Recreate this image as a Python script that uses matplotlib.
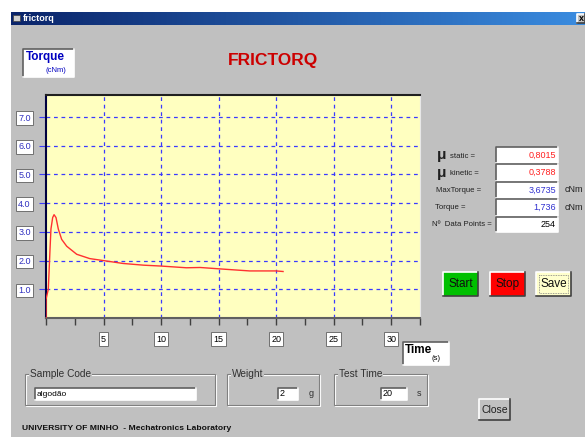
import matplotlib
matplotlib.use('Agg')
import matplotlib.pyplot as plt
from matplotlib.patches import Rectangle
from matplotlib.ticker import MultipleLocator, FormatStrFormatter
import numpy as np

plt.rcParams['font.family'] = ['Liberation Sans', 'DejaVu Sans']

# ---------- data ----------
time_s = [0.0, 0.0, 0.2, 0.35, 0.43, 0.58, 0.7, 0.87, 1.07, 1.36, 1.8, 2.67,
          3.8, 5.0, 6.7, 8.5, 10.0, 12.2, 13.4, 15.5, 17.7, 20.0, 20.6]
torque_cnm = [0.0, 0.65, 1.0, 2.4, 3.1, 3.5, 3.6, 3.5, 3.1, 2.74, 2.5, 2.22,
              2.07, 2.0, 1.9, 1.84, 1.81, 1.75, 1.76, 1.7, 1.64, 1.64, 1.62]

y_ticks = [1, 2, 3, 4, 5, 6, 7]
x_ticks = [5, 10, 15, 20, 25, 30]

result_labels = ["static =", "kinetic =", "MaxTorque =", "Torque =", "Nº  Data Points ="]
result_values = ["0,8015", "0,3788", "3,6735", "1,736", "254"]
result_colors = ["#ff2020", "#ff2020", "#3030d0", "#3030d0", "black"]
result_units = ["", "", "cNm", "cNm", ""]

sample_code = "algodão"
weight_g = "2"
test_time_s = "20"

W, H = 585, 437
GRAY = "#c0c0c0"

fig = plt.figure(figsize=(W / 100, H / 100), dpi=100)
fig.patch.set_facecolor("white")

ui = fig.add_axes([0, 0, 1, 1])
ui.set_xlim(0, W)
ui.set_ylim(H, 0)
ui.axis('off')


def bevel(x, y, w, h, face, raised=True):
    ui.add_patch(Rectangle((x, y), w, h, facecolor=face, edgecolor='none', zorder=2))
    light, dark = ("white", "#404040") if raised else ("#606060", "white")
    ui.plot([x, x, x + w], [y + h, y, y], color=light, lw=1.2, zorder=3)
    ui.plot([x, x + w, x + w], [y + h, y + h, y], color=dark, lw=1.2, zorder=3)


def group(x, y, w, h, title):
    ui.add_patch(Rectangle((x + 1, y + 1), w, h, fill=False, edgecolor="white", lw=0.8, zorder=2))
    ui.add_patch(Rectangle((x, y), w, h, fill=False, edgecolor="#808080", lw=0.8, zorder=2))
    ui.text(x + 5, y, title, fontsize=7.3, color="#303030", va='center', ha='left',
            bbox=dict(facecolor=GRAY, edgecolor='none', pad=0.5), zorder=4)


# window background
ui.add_patch(Rectangle((11, 12), W - 11, H - 12, facecolor=GRAY, edgecolor='none', zorder=0))

# title bar
grad = np.linspace(0, 1, 256).reshape(1, -1)
c0 = np.array([0x0a, 0x24, 0x6a]) / 255
c1 = np.array([0x3a, 0x8c, 0xe0]) / 255
img = c0 + (c1 - c0) * grad[..., None]
ui.imshow(img, extent=[11, W, 25, 12], aspect='auto', zorder=1)
ui.add_patch(Rectangle((13, 15), 7, 6, facecolor="#d0d0d0", edgecolor="#404040", lw=0.5, zorder=2))
ui.text(23, 18.5, "frictorq", color="white", fontsize=6.5, fontweight='bold', va='center', zorder=3)
bevel(577, 14, 8, 9, GRAY)
ui.text(581, 18.5, "x", fontsize=6.5, fontweight='bold', ha='center', va='center', zorder=4)

# torque label box
bevel(23, 49, 51, 28, "white", raised=False)
ui.text(26, 57, "Torque", color="#0000c0", fontsize=8.5, fontweight='bold', va='center', zorder=4)
ui.text(46, 71, "(cNm)", color="#0000c0", fontsize=5.5, va='center', zorder=4)

ui.text(273, 60, "FRICTORQ", color="#cc0000", fontsize=12.5, fontweight='bold',
        ha='center', va='center', zorder=4)

# time label box
bevel(403, 342, 46, 23, "white", raised=False)
ui.text(405, 350, "Time", color="black", fontsize=8.5, fontweight='bold', va='center', zorder=4)
ui.text(432, 358, "(s)", color="black", fontsize=5.5, va='center', zorder=4)

# results panel
row_y = [147, 164, 182, 199, 217]
row_h = [16, 17, 16, 17, 15]
for i, (lab, val, col, unit) in enumerate(zip(result_labels, result_values, result_colors, result_units)):
    y = row_y[i]
    cy = y + row_h[i] / 2
    bevel(496, y, 62, row_h[i], "white", raised=False)
    ui.text(556, cy, val, color=col, fontsize=6.5, ha='right', va='center', zorder=4)
    if i < 2:
        ui.text(437, cy, "μ", fontsize=11, fontweight='bold', va='center', color='#202020', zorder=4)
        ui.text(450, cy + 1, lab, fontsize=5.6, va='center', color='#202020', zorder=4)
    else:
        x0 = {2: 436, 3: 435, 4: 432}[i]
        ui.text(x0, cy, lab, fontsize=5.6, va='center', color='#202020', zorder=4)
    if unit:
        ui.text(565, cy, unit, fontsize=6.5, va='center', color='#202020', zorder=4)

# buttons
for (bx, label, face) in [(443, "Start", "#00c000"), (490, "Stop", "#ff0000"), (536, "Save", "#ffffcc")]:
    bevel(bx, 272, 35, 24, face)
    ui.text(bx + 17.5, 284, label, fontsize=8.5, ha='center', va='center', color='#101010', zorder=4)
ui.add_patch(Rectangle((539, 275), 29, 18, fill=False, edgecolor="#808080", lw=0.6,
                       linestyle=(0, (1, 1)), zorder=4))

# bottom groups
group(25, 374, 190, 31, "Sample Code")
bevel(35, 388, 161, 12, "white", raised=False)
ui.text(37, 394, sample_code, fontsize=6, va='center', zorder=4)

group(227, 374, 92, 31, "Weight")
bevel(278, 388, 20, 12, "white", raised=False)
ui.text(280, 394, weight_g, fontsize=6.5, va='center', zorder=4)
ui.text(309, 394, "g", fontsize=6.5, va='center', color='#303030', zorder=4)

group(334, 374, 93, 31, "Test Time")
bevel(381, 388, 26, 12, "white", raised=False)
ui.text(383, 394, test_time_s, fontsize=6.5, va='center', zorder=4)
ui.text(417, 394, "s", fontsize=6.5, va='center', color='#303030', zorder=4)

bevel(479, 399, 31, 21, GRAY)
ui.text(494.5, 410, "Close", fontsize=7.5, ha='center', va='center', color='#202020', zorder=4)

ui.text(22, 428, "UNIVERSITY OF MINHO  - Mechatronics Laboratory", fontsize=6.1,
        fontweight='bold', va='center', color='#101010', zorder=4)

# ---------- chart ----------
left, top, right, bottom = 46, 95, 420, 318
ax = fig.add_axes([left / W, (H - bottom) / H, (right - left) / W, (bottom - top) / H])
ax.set_zorder(5)
ax.set_facecolor("#ffffc0")
ax.set_xlim(0, 32.5)
ax.set_ylim(0, 7.77)

ax.plot(time_s, torque_cnm, color="#ff3030", lw=1.0, zorder=3)

ax.set_yticks(y_ticks)
ax.yaxis.set_major_formatter(FormatStrFormatter('%.1f'))
ax.set_xticks(x_ticks)
ax.xaxis.set_minor_locator(MultipleLocator(2.5))
ax.grid(True, color="#3a3aff", linestyle=(0, (3, 3)), lw=0.9)

ax.tick_params(axis='y', length=5, color="#3a3aff", pad=6, labelsize=6.5, labelcolor="#3030c0")
ax.tick_params(axis='x', which='both', length=5, color="#404040", width=1)
ax.tick_params(axis='x', which='major', pad=7, labelsize=6.5, labelcolor="black")

for lbl in ax.get_yticklabels() + ax.get_xticklabels():
    lbl.set_bbox(dict(facecolor="white", edgecolor="#707070", lw=0.7, boxstyle="square,pad=0.25"))

ax.spines['left'].set_color("#000040")
ax.spines['left'].set_linewidth(1.5)
ax.spines['top'].set_color("#202020")
ax.spines['top'].set_linewidth(1.5)
ax.spines['right'].set_color("#e8e8e8")
ax.spines['bottom'].set_color("#606060")
ax.spines['bottom'].set_linewidth(1.5)

fig.savefig("out.png", dpi=100)
